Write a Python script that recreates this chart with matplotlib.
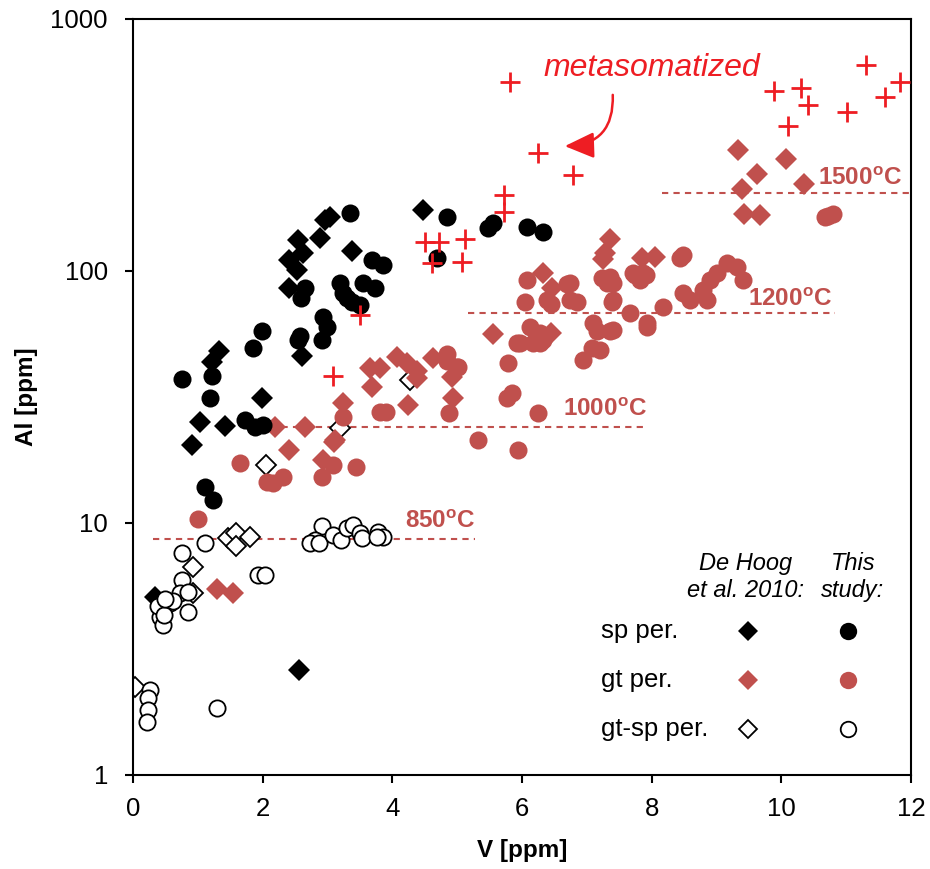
import matplotlib
matplotlib.use("Agg")
import matplotlib.pyplot as plt
from matplotlib.ticker import NullLocator

plt.rcParams['font.family'] = ['Liberation Sans', 'DejaVu Sans']
plt.rcParams['mathtext.fontset'] = 'custom'
plt.rcParams['mathtext.rm'] = 'Liberation Sans'
plt.rcParams['mathtext.bf'] = 'Liberation Sans:bold'
plt.rcParams['mathtext.it'] = 'Liberation Sans:italic'

RED = '#C0504D'
BRIGHT = '#EE1D23'

# ---- data: V [ppm], Al [ppm] ----
# spinel peridotites, De Hoog et al. 2010
sp_dh_v = [4.47, 3.04, 2.96, 2.88, 2.55, 2.62, 2.41, 2.53, 2.41, 3.38, 2.61,
           1.33, 1.22, 1.99, 1.03, 1.42, 0.91, 0.34, 2.56]
sp_dh_al = [175, 164, 159, 135, 133, 118, 111, 101, 86, 120, 46,
            48, 43.5, 31.3, 25.2, 24.3, 20.4, 5.1, 2.61]

# spinel peridotites, this study
sp_ts_v = [0.76, 1.22, 1.19, 1.85, 1.99, 1.73, 1.88, 2.0, 2.55, 2.93, 2.99,
           2.92, 2.65, 2.59, 3.19, 3.24, 3.38, 3.5, 3.55, 3.73, 3.69, 3.86,
           3.35, 4.84, 4.69, 5.48, 5.55, 6.08, 6.32, 1.11, 1.23, 3.3, 2.58]
sp_ts_al = [37.3, 38.3, 31.3, 49.5, 58, 25.6, 24, 24.5, 53, 65.7, 60,
            53, 86, 78, 90, 82, 75, 73, 90, 86, 111, 106,
            170, 164, 113, 148, 155, 150, 143, 13.9, 12.3, 78, 55]

# garnet peridotites, De Hoog et al. 2010
gt_dh_v = [9.33, 10.07, 9.63, 9.39, 10.35, 9.43, 9.67, 7.36, 7.28, 7.25, 7.85,
           8.05, 6.32, 6.46, 5.55, 4.63, 4.24, 4.38, 4.94, 4.92, 6.45,
           2.19, 2.65, 3.24, 3.12, 2.41, 3.66, 3.81, 3.69, 4.07, 4.22, 4.38,
           2.93, 3.1, 1.3, 1.54]
gt_dh_al = [302, 278, 243, 211, 221, 168, 167, 134, 118, 112, 113,
            114, 98, 86, 56, 45.2, 29.4, 37.6, 31.3, 38, 57,
            24, 24, 30, 21.3, 19.5, 41.2, 41.2, 34.7, 45.6, 43, 40,
            17.8, 21, 5.47, 5.28]

# garnet peridotites, this study
gt_ts_v = [10.67, 10.8, 10.72, 8.48, 7.71, 7.36, 7.4, 7.67, 7.93, 8.18, 8.48,
           8.59, 8.85, 8.9, 9.0, 9.16, 9.32, 9.41, 8.79, 7.74, 7.92, 7.4,
           7.39, 7.93, 7.2, 7.36, 6.05, 6.44, 6.85, 6.12, 6.28, 5.97,
           6.17, 6.32, 7.1, 7.16, 7.41, 7.08, 6.94, 5.78, 4.84, 5.02, 5.85,
           5.77, 6.25, 4.87, 5.32, 5.94, 6.08, 6.74, 7.31, 7.82, 6.39, 6.74,
           6.23, 5.92, 6.28, 6.69, 7.24, 7.87, 8.44,
           3.24, 3.81, 3.9, 4.85, 5.0, 1.65, 1.0, 2.07, 2.16, 2.31, 2.92,
           3.09, 3.44]
gt_ts_al = [164, 169, 166, 116, 98, 95, 77, 68, 62, 72, 82,
            77, 77, 92, 98, 108, 104, 92, 84, 96, 96, 90,
            75, 60, 48.6, 58, 75, 74, 75, 60, 56.8, 51.8,
            51.8, 53, 62, 58, 58.5, 49.5, 44.4, 43, 47, 41.6, 32.8,
            31.3, 27.3, 27.3, 21.3, 19.5, 92, 90, 90, 92, 77, 77,
            55, 52, 52, 89, 94, 98, 113,
            26.3, 27.6, 27.6, 44, 41.6, 17.3, 10.4, 14.5, 14.4, 15.2, 15.2,
            17, 16.7]

# garnet-spinel peridotites, De Hoog et al. 2010
gtsp_dh_v = [0.93, 1.47, 1.59, 1.59, 1.8, 2.05, 0.03, 0.93, 3.19, 4.27]
gtsp_dh_al = [6.69, 8.7, 9.1, 8.1, 8.8, 17, 2.24, 5.28, 23.8, 36.9]

# garnet-spinel peridotites, this study
gtsp_ts_v = [1.11, 0.76, 0.76, 0.72, 0.85, 0.57, 0.46, 0.42, 0.46, 0.85, 0.62,
             0.39, 1.93, 2.04, 0.26, 0.23, 0.23, 0.22, 1.3, 2.92, 2.81, 2.73,
             2.87, 3.09, 3.21, 3.3, 3.39, 3.5, 3.53, 3.78, 3.86, 3.76, 0.48, 0.5]
gtsp_ts_al = [8.33, 7.6, 5.94, 5.28, 5.3, 4.82, 4.6, 4.24, 3.94, 4.43, 4.9,
              4.7, 6.2, 6.2, 2.17, 2.02, 1.81, 1.62, 1.84, 9.7, 8.6, 8.3,
              8.3, 9.0, 8.6, 9.55, 9.8, 9.1, 8.7, 9.2, 8.8, 8.8, 4.3, 5.0]

# metasomatized samples
meta_v = [5.82, 6.25, 6.79, 5.72, 5.72, 4.5, 4.72, 5.12, 4.61, 5.08, 3.5,
          3.09, 11.31, 9.89, 10.30, 10.41, 10.1, 11.01, 11.6, 11.83]
meta_al = [562, 294, 240, 200, 172, 130, 130, 134, 108, 109, 67,
           38.3, 657, 518, 532, 456, 376, 428, 490, 562]

# isotherms: label, Al level, V start, V end
iso_labels = ['850', '1000', '1200', '1500']
iso_al = [8.64, 24.0, 68.0, 204.0]
iso_v0 = [0.31, 2.11, 5.17, 8.16]
iso_v1 = [5.28, 7.94, 10.83, 12.0]
iso_label_v = [5.28, 7.93, 10.78, 11.86]
iso_label_al = [10.1, 28.1, 76.7, 232.0]

x_ticks = [0, 2, 4, 6, 8, 10, 12]
y_ticks = [1, 10, 100, 1000]
y_tick_labels = ['1', '10', '100', '1000']

# ---- figure ----
W, H = 930, 869
fig = plt.figure(figsize=(W / 100, H / 100), dpi=100)
L, R, T, B = 133, 911, 19, 775
ax = fig.add_axes([L / W, 1 - B / H, (R - L) / W, (B - T) / H])
ax.set_yscale('log')
ax.set_xlim(0, 12)
ax.set_ylim(1, 1000)

for i in range(len(iso_labels)):
    ax.plot([iso_v0[i], iso_v1[i]], [iso_al[i], iso_al[i]], color=RED,
            lw=1.5, ls=(0, (3, 2.5)), zorder=1)
    ax.text(iso_label_v[i], iso_label_al[i],
            r'$\mathbf{' + iso_labels[i] + r'^{o}C}$',
            color=RED, fontsize=17.5, ha='right', va='center', zorder=1)

ms_c, ms_d = 13.0, 11.2
ax.plot(gtsp_dh_v, gtsp_dh_al, 'D', ms=ms_d - 1.0, mfc='white', mec='black',
        mew=1.3, ls='none', zorder=2)
ax.plot(sp_dh_v, sp_dh_al, 'D', ms=ms_d, mfc='black', mec='black', mew=0,
        ls='none', zorder=3)
ax.plot(gt_dh_v, gt_dh_al, 'D', ms=ms_d, mfc=RED, mec=RED, mew=0,
        ls='none', zorder=3)
ax.plot(sp_ts_v, sp_ts_al, 'o', ms=ms_c, mfc='black', mew=0,
        ls='none', zorder=4)
ax.plot(gt_ts_v, gt_ts_al, 'o', ms=ms_c, mfc=RED, mew=0,
        ls='none', zorder=4)
ax.plot(gtsp_ts_v, gtsp_ts_al, 'o', ms=ms_c - 1.3, mfc='white', mec='black',
        mew=1.3, ls='none', zorder=5)
ax.plot(meta_v, meta_al, '+', ms=14, mec=BRIGHT, mew=2.0, ls='none', zorder=6)

ax.text(8.0, 639, 'metasomatized', color=BRIGHT, fontsize=23,
        style='italic', ha='center', va='center', zorder=7)
ax.annotate('', xy=(6.66, 313), xytext=(7.40, 500),
            arrowprops=dict(arrowstyle='-|>,head_length=0.9,head_width=0.4',
                            connectionstyle='arc3,rad=-0.5', color=BRIGHT,
                            lw=1.8, mutation_scale=20, shrinkA=0, shrinkB=0),
            zorder=7)

# axes styling
for s in ax.spines.values():
    s.set_linewidth(1.5)
    s.set_color('black')
ax.set_xticks(x_ticks)
ax.set_xticklabels([str(v) for v in x_ticks])
ax.set_yticks(y_ticks)
ax.set_yticklabels(y_tick_labels)
ax.yaxis.set_minor_locator(NullLocator())
ax.tick_params(axis='both', direction='out', length=6, width=1.5,
               labelsize=18.5, pad=12, colors='black')
ax.tick_params(axis='x', pad=10)

fig.text(522 / W, 1 - 851 / H, 'V [ppm]', fontsize=17.5, fontweight='bold',
         ha='center', va='center')
fig.text(27 / W, 1 - 397 / H, 'Al [ppm]', fontsize=17.5, fontweight='bold',
         ha='center', va='center', rotation=90)

# key
def axf(px, py):
    return (px - L) / (R - L), (B - py) / (B - T)

hx, hy = axf(746, 577)
ax.text(hx, hy, 'De Hoog\net al. 2010:', transform=ax.transAxes, fontsize=17,
        style='italic', ha='center', va='center', linespacing=1.2)
hx, hy = axf(853, 577)
ax.text(hx, hy, 'This\nstudy:', transform=ax.transAxes, fontsize=17,
        style='italic', ha='center', va='center', linespacing=1.2)

key_rows = ['sp per.', 'gt per.', 'gt-sp per.']
key_y = [631, 680, 729]
key_dh = [dict(mfc='black', mec='black', mew=0, ms=ms_d - 0.6),
          dict(mfc=RED, mec=RED, mew=0, ms=ms_d - 0.6),
          dict(mfc='white', mec='black', mew=1.3, ms=ms_d - 1.6)]
key_ts = [dict(mfc='black', mew=0, ms=ms_c - 0.5),
          dict(mfc=RED, mew=0, ms=ms_c - 0.5),
          dict(mfc='white', mec='black', mew=1.3, ms=ms_c - 1.8)]
for lab, py, kd, kt in zip(key_rows, key_y, key_dh, key_ts):
    tx, ty = axf(601, py)
    ax.text(tx, ty, lab, transform=ax.transAxes, fontsize=18.5,
            ha='left', va='center')
    mx, my = axf(748, py)
    ax.plot([mx], [my], 'D', transform=ax.transAxes, clip_on=False, **kd)
    mx, my = axf(848, py)
    ax.plot([mx], [my], 'o', transform=ax.transAxes, clip_on=False, **kt)

fig.savefig('out.png', dpi=100, facecolor='white')
